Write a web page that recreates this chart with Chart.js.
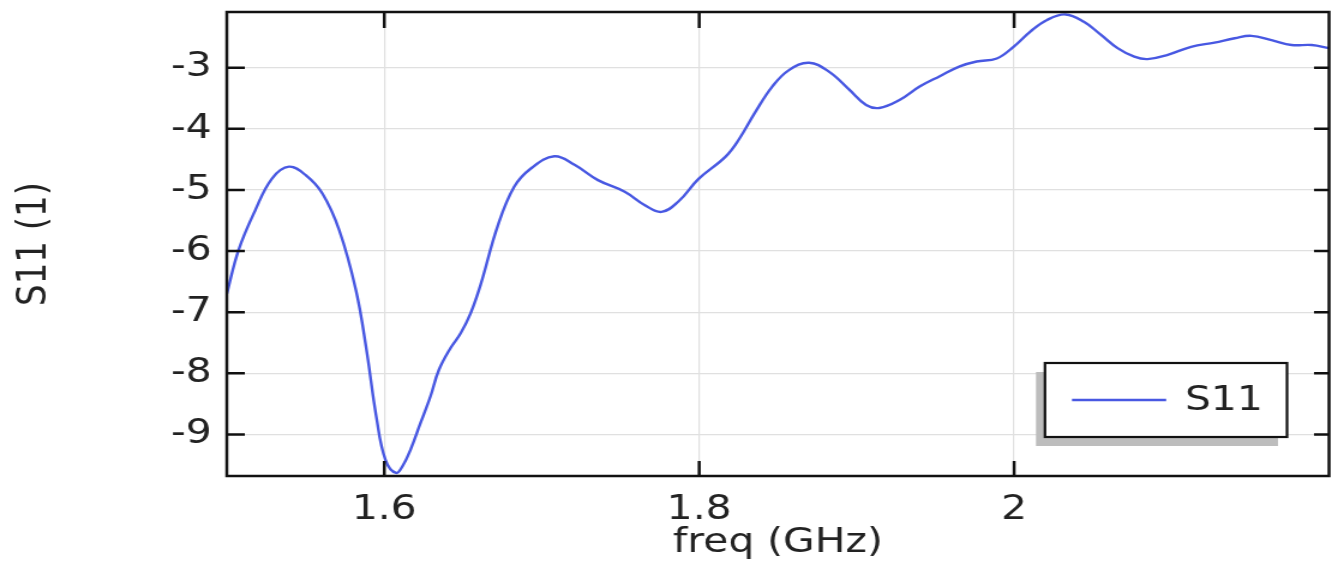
<!DOCTYPE html>
<html>
<head>
<meta charset="utf-8">
<script src="https://cdn.jsdelivr.net/npm/chart.js@4.4.1/dist/chart.umd.min.js"></script>
<style>
  html, body { margin: 0; padding: 0; background: #fff; overflow: hidden; }
  /* the plot is drawn on a narrower canvas and widened horizontally */
  #wrap { position: absolute; left: 0; top: 0; width: 1120px; height: 562px;
          transform: scaleX(1.2); transform-origin: 0 0; }
</style>
</head>
<body>
<div id="wrap"><canvas id="c"></canvas></div>
<script>
// Reflection coefficient S11 versus frequency
const freq = [
  1.500, 1.5075, 1.5181, 1.5288, 1.5395, 1.5501, 1.5607, 1.5714, 1.5820, 1.5886,
  1.5950, 1.6008, 1.6075, 1.6120, 1.6165, 1.6229, 1.6293, 1.6346, 1.6420, 1.6484,
  1.6548, 1.6612, 1.6719, 1.6825, 1.6931, 1.7080, 1.7208, 1.7357, 1.7527, 1.7655,
  1.7761, 1.7868, 1.7996, 1.8166, 1.8251, 1.8358, 1.8464, 1.8570, 1.8698, 1.8826,
  1.8953, 1.9060, 1.9144, 1.9272, 1.9400, 1.9528, 1.9655, 1.9762, 1.9890, 1.9996,
  2.0103, 2.0209, 2.0326, 2.0443, 2.0550, 2.0657, 2.0763, 2.0848, 2.0976, 2.1124,
  2.1273, 2.1401, 2.1507, 2.1635, 2.1762, 2.1890, 2.2000
];
const s11 = [
  -6.70, -5.98, -5.33, -4.81, -4.62, -4.76, -5.06, -5.66, -6.64, -7.60,
  -8.72, -9.42, -9.63, -9.50, -9.26, -8.82, -8.38, -7.95, -7.59, -7.35,
  -7.02, -6.55, -5.60, -4.95, -4.65, -4.45, -4.59, -4.84, -5.03, -5.25,
  -5.36, -5.19, -4.82, -4.46, -4.18, -3.72, -3.31, -3.04, -2.92, -3.07,
  -3.36, -3.61, -3.66, -3.53, -3.31, -3.14, -2.98, -2.90, -2.85, -2.66,
  -2.41, -2.22, -2.13, -2.25, -2.46, -2.68, -2.82, -2.86, -2.79, -2.66,
  -2.59, -2.52, -2.48, -2.55, -2.63, -2.63, -2.68
];
const seriesName = 'S11';
const xTicks = [1.6, 1.8, 2];
const yTicks = [-9, -8, -7, -6, -5, -4, -3];
const xRange = [1.5, 2.2];
const yRange = [-9.68, -2.09];
const xTitle = 'freq (GHz)';
const yTitle = 'S11 (1)';

const FONT = "'DejaVu Sans', sans-serif";
const TEXT = '#222222';
const LINE = 'rgb(72, 88, 226)';

const points = freq.map((f, i) => ({ x: f, y: s11[i] }));

// box frame with inward tick marks
const framePlugin = {
  id: 'frame',
  afterDatasetsDraw(chart) {
    const { ctx, chartArea: a, scales } = chart;
    ctx.save();
    ctx.strokeStyle = '#111';
    ctx.lineWidth = 2.5;
    ctx.beginPath();
    xTicks.forEach(v => {
      const px = scales.x.getPixelForValue(v);
      ctx.moveTo(px, a.bottom); ctx.lineTo(px, a.bottom - 15);
      ctx.moveTo(px, a.top); ctx.lineTo(px, a.top + 16);
    });
    yTicks.forEach(v => {
      const py = scales.y.getPixelForValue(v);
      ctx.moveTo(a.left, py); ctx.lineTo(a.left + 15, py);
      ctx.moveTo(a.right, py); ctx.lineTo(a.right - 12.5, py);
    });
    ctx.stroke();
    ctx.strokeRect(a.left, a.top, a.right - a.left, a.bottom - a.top);
    ctx.restore();
  }
};

// legend box with drop shadow in the lower right corner
const legendPlugin = {
  id: 'boxLegend',
  afterDraw(chart) {
    const { ctx, chartArea: a } = chart;
    const ds = chart.data.datasets[0];
    const w = 201.7, h = 74;
    const x = a.right - 35 - w, y = a.bottom - 39 - h;
    ctx.save();
    ctx.fillStyle = '#bdbdbd';
    ctx.fillRect(x - 7.5, y + 9, w, h);
    ctx.fillStyle = '#fff';
    ctx.fillRect(x, y, w, h);
    ctx.strokeStyle = '#111';
    ctx.lineWidth = 2.2;
    ctx.strokeRect(x, y, w, h);
    const cy = y + h / 2;
    ctx.strokeStyle = ds.borderColor;
    ctx.lineWidth = 2.4;
    ctx.beginPath();
    ctx.moveTo(x + 22.5, cy); ctx.lineTo(x + 101, cy);
    ctx.stroke();
    ctx.fillStyle = TEXT;
    ctx.font = `34px ${FONT}`;
    ctx.textBaseline = 'middle';
    ctx.textAlign = 'left';
    ctx.fillText(ds.label, x + 116.7, cy + 1);
    ctx.restore();
  }
};

new Chart(document.getElementById('c'), {
  type: 'line',
  data: {
    datasets: [{
      label: seriesName,
      data: points,
      borderColor: LINE,
      borderWidth: 2.4,
      pointRadius: 0,
      tension: 0.4,
      fill: false
    }]
  },
  options: {
    responsive: true,
    maintainAspectRatio: false,
    animation: false,
    devicePixelRatio: 1,
    layout: { padding: { top: 12, right: 12.5, left: 0, bottom: 0 } },
    plugins: { legend: { display: false }, tooltip: { enabled: false } },
    scales: {
      x: {
        type: 'linear',
        min: xRange[0], max: xRange[1],
        afterBuildTicks: s => { s.ticks = xTicks.map(v => ({ value: v })); },
        afterFit: s => { s.height = 86; s.paddingLeft = 0; s.paddingRight = 0; },
        ticks: {
          autoSkip: false, maxRotation: 0, padding: 14, color: TEXT,
          font: { family: FONT, size: 34 },
          callback: v => String(+v.toFixed(1))
        },
        grid: { color: '#e0e0e0', lineWidth: 1.2, drawTicks: false },
        border: { display: false },
        title: {
          display: true, text: xTitle, color: TEXT,
          font: { family: FONT, size: 34 },
          padding: { top: 0, bottom: -2 }
        }
      },
      y: {
        type: 'linear',
        min: yRange[0], max: yRange[1],
        afterBuildTicks: s => { s.ticks = yTicks.map(v => ({ value: v })); },
        afterFit: s => { s.width = 189; s.paddingTop = 0; s.paddingBottom = 0; },
        ticks: {
          autoSkip: false, padding: 12.5, color: TEXT,
          font: { family: FONT, size: 34 },
          callback: v => String(v)
        },
        grid: { color: '#e0e0e0', lineWidth: 1.2, drawTicks: false },
        border: { display: false },
        title: {
          display: true, text: yTitle, color: TEXT,
          font: { family: FONT, size: 34 },
          padding: { top: 9, bottom: 0 }
        }
      }
    }
  },
  plugins: [framePlugin, legendPlugin]
});
</script>
</body>
</html>
